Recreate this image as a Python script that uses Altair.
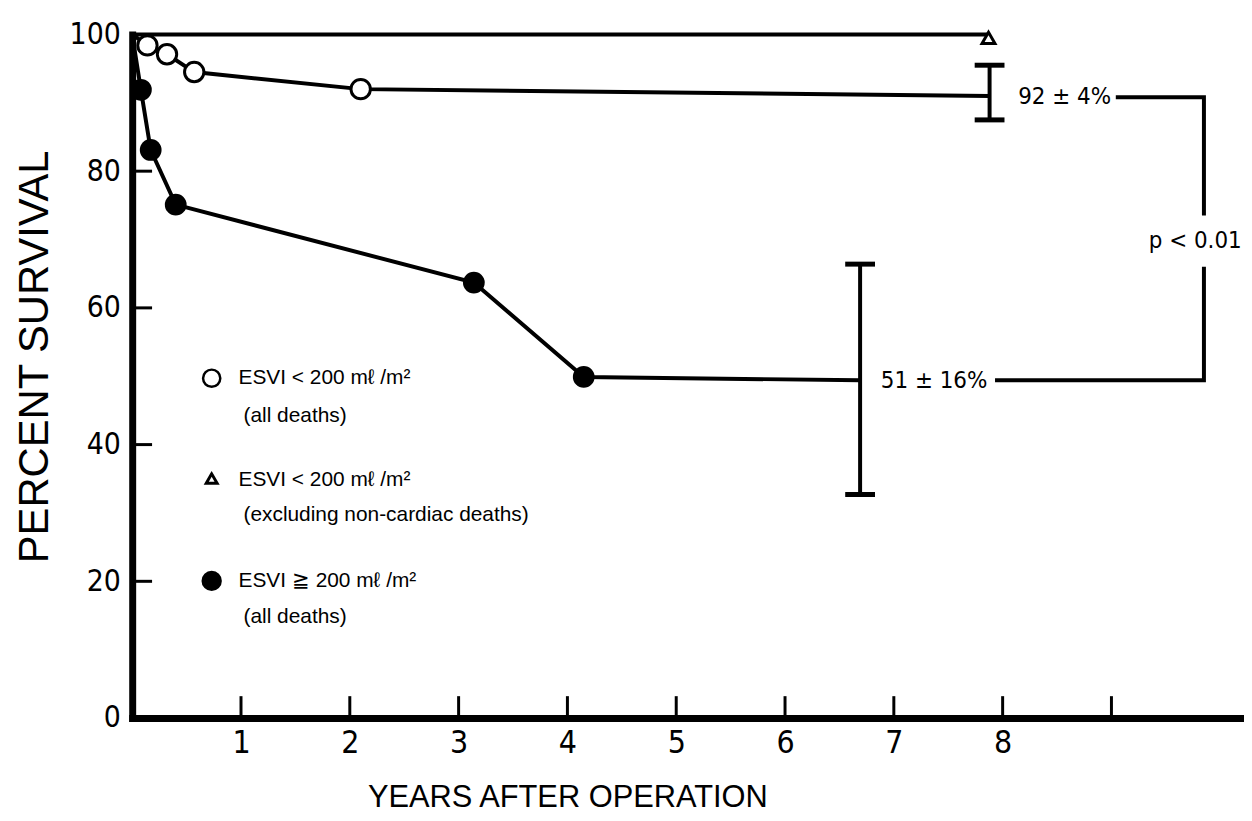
import altair as alt
import pandas as pd

# ---- data (years after operation, percent survival) ----
open_t = [0.0, 0.14, 0.32, 0.57, 2.10, 7.88]
open_p = [100.0, 98.4, 97.1, 94.5, 92.0, 91.0]

fill_t = [0.0, 0.08, 0.17, 0.40, 3.14, 4.15, 6.69]
fill_p = [100.0, 91.9, 83.1, 75.1, 63.7, 49.9, 49.4]

excl_t = [0.0, 7.86]
excl_p = [100.0, 100.0]
tri_t = [7.87]
tri_p = [99.5]

eb_t = [7.88, 6.69]
eb_lo = [87.5, 32.7]
eb_hi = [95.5, 66.4]

br_seg = [0, 0, 0, 1, 1, 1]
br_ord = [0, 1, 2, 3, 4, 5]
br_t = [7.93, 9.85, 9.85, 9.85, 9.85, 9.04]
br_p = [49.4, 49.4, 66.0, 73.5, 90.8, 90.8]

ann_text = ["92 ± 4%", "51 ± 16%", "p < 0.01"]
ann_t = [8.57, 7.37, 9.77]
ann_p = [90.8, 49.3, 69.8]

x_tick_vals = [1, 2, 3, 4, 5, 6, 7, 8, 9]
x_label_vals = [1, 2, 3, 4, 5, 6, 7, 8]
y_tick_vals = [20, 40, 60, 80]
y_label_vals = [0, 20, 40, 60, 80, 100]

legend_lines = ["ESVI < 200 mℓ /m²", "(all deaths)",
                "ESVI < 200 mℓ /m²", "(excluding non-cardiac deaths)",
                "ESVI ≧ 200 mℓ /m²", "(all deaths)"]

NARROW = "Liberation Sans Narrow, DejaVu Sans Condensed, Liberation Sans, sans-serif"
SANS = "Liberation Sans, Arial, sans-serif"

W = 1117
H = 688

xs = alt.Scale(domain=[0, 10.2], nice=False, zero=False)
ys = alt.Scale(domain=[0, 100], nice=False)

df_open = pd.DataFrame({"t": open_t, "p": open_p})
df_open_m = df_open.iloc[1:-1]
df_fill = pd.DataFrame({"t": fill_t, "p": fill_p})
df_fill_m = df_fill.iloc[1:-1]
df_excl = pd.DataFrame({"t": excl_t, "p": excl_p})
df_tri = pd.DataFrame({"t": tri_t, "p": tri_p})
df_eb_lo = pd.DataFrame({"t": eb_t, "p": eb_lo, "hi": eb_hi})
df_eb_hi = pd.DataFrame({"t": eb_t, "p": eb_hi})
df_br = pd.DataFrame({"seg": br_seg, "o": br_ord, "t": br_t, "p": br_p})
df_ann = pd.DataFrame({"txt": ann_text, "t": ann_t, "p": ann_p})
df_xt = pd.DataFrame({"t": x_tick_vals})
df_yt = pd.DataFrame({"p": y_tick_vals})

x_axis = alt.Axis(values=x_label_vals, title="YEARS AFTER OPERATION", ticks=False,
                  grid=False, domainWidth=7, domainColor="black", domainCap="square",
                  labelFont=NARROW, labelFontSize=32, labelColor="black", labelPadding=10,
                  titleFont=SANS, titleFontSize=31, titleFontWeight="normal",
                  titleColor="black", titlePadding=24, titleX=438)
y_axis = alt.Axis(values=y_label_vals, title="PERCENT SURVIVAL", ticks=False,
                  grid=False, domainWidth=7, domainColor="black", domainCap="square",
                  labelFont=NARROW, labelFontSize=30, labelColor="black", labelPadding=12,
                  titleFont=SANS, titleFontSize=42, titleFontWeight="normal",
                  titleColor="black", titlePadding=13, titleY=324)


def X(f="t"):
    return alt.X(f + ":Q", scale=xs, axis=x_axis)


def Y(f="p"):
    return alt.Y(f + ":Q", scale=ys, axis=y_axis)


line_open = alt.Chart(df_open).mark_line(color="black", strokeWidth=4).encode(x=X(), y=Y())
line_fill = alt.Chart(df_fill).mark_line(color="black", strokeWidth=4).encode(x=X(), y=Y())
line_excl = alt.Chart(df_excl).mark_line(color="black", strokeWidth=4).encode(x=X(), y=Y())

pts_open = alt.Chart(df_open_m).mark_point(shape="circle", filled=True, fill="white",
                                           stroke="black", strokeWidth=3, size=380,
                                           opacity=1).encode(x=X(), y=Y())
pts_fill = alt.Chart(df_fill_m).mark_point(shape="circle", filled=True, color="black",
                                           size=480, opacity=1).encode(x=X(), y=Y())
pts_tri = alt.Chart(df_tri).mark_point(shape="triangle-up", filled=True, fill="white",
                                       stroke="black", strokeWidth=3, size=170,
                                       opacity=1).encode(x=X(), y=Y())

eb_rule = alt.Chart(df_eb_lo).mark_rule(color="black", strokeWidth=4).encode(
    x=X(), y=Y(), y2="hi:Q")
eb_cap_lo = alt.Chart(df_eb_lo).mark_tick(orient="horizontal", color="black", size=30,
                                          thickness=5, opacity=1).encode(x=X(), y=Y())
eb_cap_hi = alt.Chart(df_eb_hi).mark_tick(orient="horizontal", color="black", size=30,
                                          thickness=5, opacity=1).encode(x=X(), y=Y())

bracket = alt.Chart(df_br).mark_line(color="black", strokeWidth=4).encode(
    x=X(), y=Y(), detail="seg:N", order="o:Q")

ann = alt.Chart(df_ann).mark_text(font=NARROW, fontSize=24, color="black",
                                  align="center", baseline="middle").encode(
    x=X(), y=Y(), text="txt:N")

xticks = alt.Chart(df_xt).mark_rule(color="black", strokeWidth=3).encode(
    x=X(), y=alt.value(H), y2=alt.value(H - 22))
yticks = alt.Chart(df_yt).mark_rule(color="black", strokeWidth=3).encode(
    y=Y(), x=alt.value(0), x2=alt.value(20))

# legend (drawn inside the plot, as in the original)
leg_df = pd.DataFrame({"txt": legend_lines, "row": [0, 1, 2, 3, 4, 5]})
leg_y = [346, 384, 448, 484, 550, 586]
leg_x = [107, 112, 107, 112, 107, 112]
leg_layers = []
for i, txt in enumerate(legend_lines):
    leg_layers.append(
        alt.Chart(leg_df.iloc[[i]]).mark_text(font=SANS, fontSize=21, color="black",
                                              align="left", baseline="middle").encode(
            x=alt.value(leg_x[i]), y=alt.value(leg_y[i]), text="txt:N"))
leg_marks = [
    alt.Chart(leg_df.iloc[[0]]).mark_point(shape="circle", filled=True, fill="white",
                                           stroke="black", strokeWidth=2.5, size=300,
                                           opacity=1).encode(x=alt.value(80), y=alt.value(346)),
    alt.Chart(leg_df.iloc[[2]]).mark_point(shape="triangle-up", filled=True, fill="white",
                                           stroke="black", strokeWidth=3, size=120,
                                           opacity=1).encode(x=alt.value(80), y=alt.value(447)),
    alt.Chart(leg_df.iloc[[4]]).mark_point(shape="circle", filled=True, color="black",
                                           size=420, opacity=1).encode(x=alt.value(80), y=alt.value(550)),
]

chart = alt.layer(
    line_open, line_fill, line_excl, xticks, yticks,
    eb_rule, eb_cap_lo, eb_cap_hi, bracket,
    pts_open, pts_fill, pts_tri, ann, *leg_layers, *leg_marks
).properties(
    width=W, height=H,
    autosize=alt.AutoSizeParams(type="none"),
    padding={"left": 125, "top": 24, "right": 2, "bottom": 98},
    background="white",
).configure_view(stroke=None)

chart.save("out.html", embed_options={"renderer": "svg", "actions": False})
